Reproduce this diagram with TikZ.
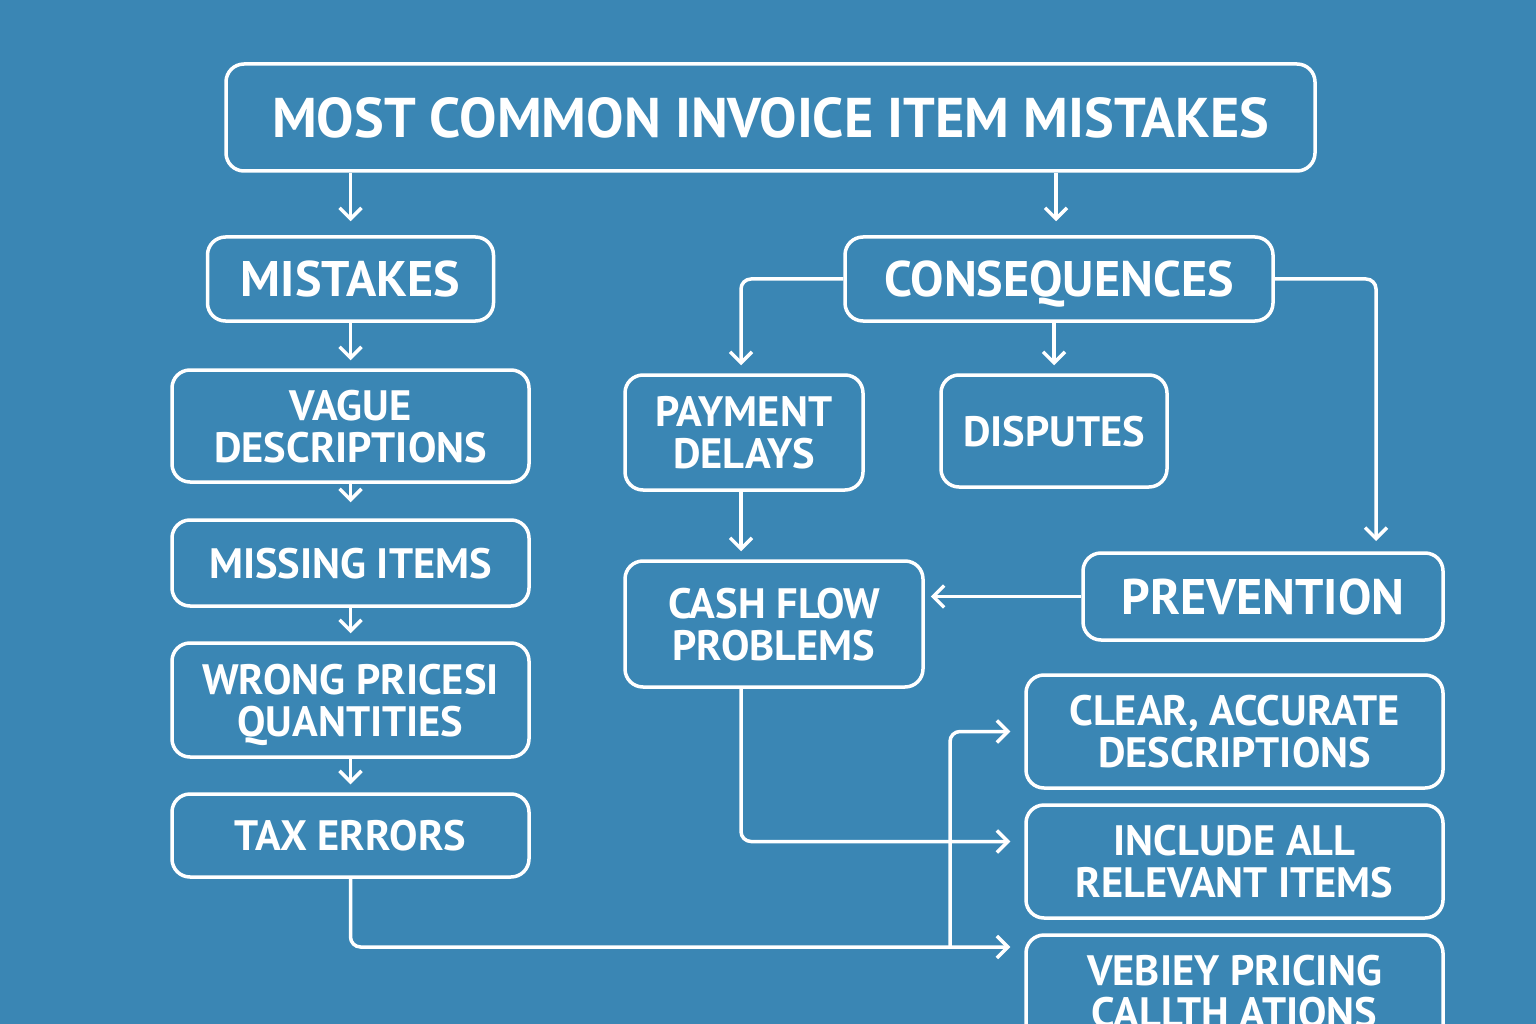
\documentclass[tikz,border=0pt]{standalone}
\usepackage{fontspec}
\setmainfont{PT Sans}
\usetikzlibrary{arrows.meta}
\definecolor{bgblue}{HTML}{3A86B4}

\begin{document}
\begin{tikzpicture}[x=1pt,y=-1pt,
	box/.style={draw=white,line width=3.5pt,rounded corners=18pt,text=white,align=center,inner sep=0pt,text depth=0pt,font=\bfseries\fontsize{42.5}{42}\selectfont},
	head/.style={box,font=\bfseries\fontsize{50}{52}\selectfont},
	arr/.style={draw=white,line width=3.5pt,rounded corners=10pt,-{Straight Barb[length=11pt,width=22pt]},shorten >=8pt}]
		\useasboundingbox (0,0) rectangle (1536,1024);
		\clip (0,0) rectangle (1536,1024);
		\fill[bgblue] (0,0) rectangle (1536,1024);
		\node[box,minimum width=1089,minimum height=107,font=\bfseries\fontsize{56}{60}\selectfont] (title) at (770.5,117.5) {MOST COMMON INVOICE ITEM MISTAKES};
		\node[head,minimum width=286,minimum height=84] (mistakes) at (350.5,279) {MISTAKES};
		\node[head,minimum width=428,minimum height=84] (conseq) at (1059,279) {CONSEQUENCES};
		\node[box,minimum width=357,minimum height=112] (vague) at (350.5,426) {VAGUE\\DESCRIPTIONS};
		\node[box,minimum width=357,minimum height=86] (missing) at (350.5,563) {MISSING ITEMS};
		\node[box,minimum width=357,minimum height=114] (wrong) at (350.5,700) {WRONG PRICESI\\QUANTITIES};
		\node[box,minimum width=357,minimum height=83] (tax) at (350.5,835.5) {TAX ERRORS};
		\node[box,minimum width=238,minimum height=115] (payment) at (744,432.5) {PAYMENT\\DELAYS};
		\node[box,minimum width=226,minimum height=112] (disputes) at (1054,431) {DISPUTES};
		\node[box,minimum width=298,minimum height=126] (cashflow) at (774,624) {CASH FLOW\\PROBLEMS};
		\node[head,minimum width=360,minimum height=87] (prevention) at (1263,596.5) {PREVENTION};
		\node[box,minimum width=417,minimum height=113] (clear) at (1234.5,731.5) {CLEAR, ACCURATE\\DESCRIPTIONS};
		\node[box,minimum width=417,minimum height=113] (include) at (1234.5,861.5) {INCLUDE ALL\\RELEVANT ITEMS};
		\node[box,minimum width=417,minimum height=112] (verify) at (1234.5,991) {VEBIEY PRICING\\CALLTH ATIONS};
		\coordinate (pvtop) at (1376,553);
		\coordinate (branch) at (950,947);
		% title to the two columns
		\draw[arr,shorten >=14pt] (mistakes.north |- title.south) -- (mistakes.north);
		\draw[arr,shorten >=14pt] ([xshift=-3pt]conseq.north |- title.south) -- ([xshift=-3pt]conseq.north);
		% mistakes column
		\draw[arr] (mistakes) -- (vague);
		\draw[arr,shorten >=16pt] (vague) -- (missing);
		\draw[arr] (missing) -- (wrong);
		\draw[arr] (wrong) -- (tax);
		% consequences
		\draw[arr] (conseq.west) -| ([xshift=-3pt]payment.north);
		\draw[arr] (disputes.north |- conseq.south) -- (disputes.north);
		\draw[arr,shorten >=12pt] (conseq.east) -| (pvtop);
		\draw[arr] ([xshift=-3pt]payment.south) -- ([xshift=-3pt]payment.south |- cashflow.north);
		\draw[arr,shorten >=6pt] (prevention.west) -- (prevention.west -| cashflow.east);
		% into prevention list
		\draw[arr,shorten >=14pt] ([xshift=-3pt]payment.south |- cashflow.south) |- ([yshift=20pt]include.west);
		\draw[arr,shorten >=14pt] (tax.south) |- ([yshift=44pt]verify.west);
		\draw[arr,shorten >=14pt] (branch) |- (clear.west);
	\end{tikzpicture}
\end{document}
